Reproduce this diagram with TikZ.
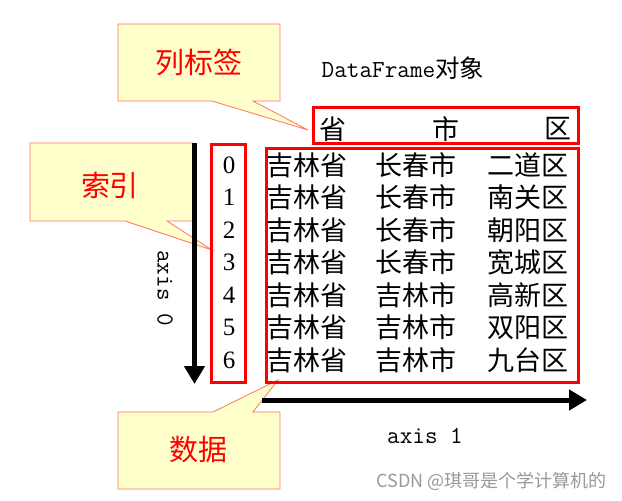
\documentclass[tikz,border=0pt]{standalone}
\usepackage{fontspec}
\newfontfamily\cjk{Noto Sans CJK SC}
\newfontfamily\digits{Liberation Serif}
\usetikzlibrary{arrows.meta}
\definecolor{tagfill}{RGB}{255,255,204}
\definecolor{tagline}{RGB}{255,115,105}

\begin{document}
\begin{tikzpicture}[x=1pt,y=-1pt,>={Triangle[length=18pt,width=20pt]},
  tag/.style={fill=tagfill,draw=tagline,line width=0.8pt},
  tagtext/.style={text=red,inner sep=0pt,font=\cjk\fontsize{29}{29}\selectfont},
  cell/.style={inner sep=0pt,font=\cjk\fontsize{27}{27}\selectfont},
  idx/.style={inner sep=0pt,font=\digits\fontsize{25}{25}\selectfont},
  frame/.style={draw=red,line width=3pt},
  axis/.style={->,line width=5pt},
  mono/.style={inner sep=0pt,font=\ttfamily\fontsize{24.5}{24.5}\selectfont}]
\useasboundingbox (0,0) rectangle (622,501);
% callouts
\draw[tag] (118,24) -- (280,24) -- (280,101) -- (253,101) -- (308,130) -- (212,101) -- (118,101) -- cycle;
\draw[tag] (30,143) -- (193,143) -- (193,221) -- (167,221) -- (212,250) -- (125,221) -- (30,221) -- cycle;
\draw[tag] (118,412) -- (213,412) -- (278,380) -- (253,412) -- (280,412) -- (280,489) -- (118,489) -- cycle;
\node[tagtext] (collbl) at (199,62) {列标签};
\node[tagtext] (idxlbl) at (110,185) {索引};
\node[tagtext] (datlbl) at (198,450) {数据};
% frames
\draw[frame] (313,107.5) rectangle (578,143.5);
\draw[frame] (211.5,144.5) rectangle (245,382);
\draw[frame] (266,148.5) rectangle (578,382);
\node[mono,anchor=base] (title) at (403,77) {DataFrame{\cjk 对象}};
% header
\node[cell] (h1) at (333,129) {省};
\node[cell] (h2) at (446,129) {市};
\node[cell] (h3) at (558,129) {区};
% rows
\node[idx] (i0) at (229,165) {0}; \node[cell] (c0a) at (307,165) {吉林省}; \node[cell] (c0b) at (416,165) {长春市}; \node[cell] (c0c) at (528,165) {二道区};
\node[idx] (i1) at (229,197.5) {1}; \node[cell] (c1a) at (307,197.5) {吉林省}; \node[cell] (c1b) at (416,197.5) {长春市}; \node[cell] (c1c) at (528,197.5) {南关区};
\node[idx] (i2) at (229,230) {2}; \node[cell] (c2a) at (307,230) {吉林省}; \node[cell] (c2b) at (416,230) {长春市}; \node[cell] (c2c) at (528,230) {朝阳区};
\node[idx] (i3) at (229,262.5) {3}; \node[cell] (c3a) at (307,262.5) {吉林省}; \node[cell] (c3b) at (416,262.5) {长春市}; \node[cell] (c3c) at (528,262.5) {宽城区};
\node[idx] (i4) at (229,295) {4}; \node[cell] (c4a) at (307,295) {吉林省}; \node[cell] (c4b) at (416,295) {吉林市}; \node[cell] (c4c) at (528,295) {高新区};
\node[idx] (i5) at (229,327.5) {5}; \node[cell] (c5a) at (307,327.5) {吉林省}; \node[cell] (c5b) at (416,327.5) {吉林市}; \node[cell] (c5c) at (528,327.5) {双阳区};
\node[idx] (i6) at (229,360) {6}; \node[cell] (c6a) at (307,360) {吉林省}; \node[cell] (c6b) at (416,360) {吉林市}; \node[cell] (c6c) at (528,360) {九台区};
% axes
\coordinate (a0s) at (194.5,143);
\coordinate (a0e) at (194.5,384);
\coordinate (a1s) at (262,400);
\coordinate (a1e) at (587,400);
\draw[axis] (a0s) -- (a0e);
\draw[axis] (a1s) -- (a1e);
\node[mono,rotate=-90] (ax0) at (165,288) {axis 0};
\node[mono] (ax1) at (425,436) {axis 1};
\node[anchor=east,text=black!40,inner sep=0pt,font=\cjk\fontsize{18}{18}\selectfont] (wm) at (607,481) {CSDN @琪哥是个学计算机的};
\end{tikzpicture}
\end{document}
